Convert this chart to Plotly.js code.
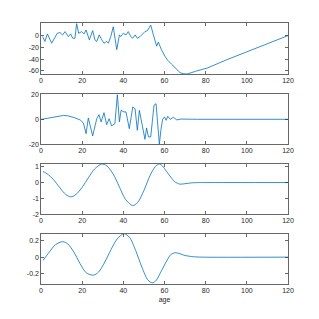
<!DOCTYPE html>
<html>
<head>
<meta charset="utf-8">
<script src="https://cdn.plot.ly/plotly-3.0.1.min.js"></script>
<style>html,body{margin:0;padding:0;background:#fff;}#chart{width:319px;height:319px;}</style>
</head>
<body>
<div id="chart"></div>
<script>
// ---- data ----
const xTicks = [0, 20, 40, 60, 80, 100, 120];
const xTickText = ['0', '20', '40', '60', '80', '100', '120'];
const xLabel = 'age';

const p1Age = [0.8,1.9,3.1,5.2,7.9,9.2,10.5,11.7,13.3,14.4,15.4,16.5,17.3,18.3,19.8,20.9,21.9,23.5,25.1,26.2,27.1,28.3,29.5,30.6,31.9,32.7,33.9,35.1,36.8,38.1,38.7,40,41.3,42.4,43.6,44.6,45.7,46.8,48.1,49.4,50.5,51.7,53.3,54.6,56.2,57,58.5,60.2,61.5,63.5,65.9,67.5,69,71,75,81,90,100,110,120];
const p1Val = [-1.7,-10,2.9,-13,4,5.2,1.2,6.8,-1.7,2.9,-4.5,-4.5,20.5,4,6.8,2.9,9.6,-7.3,8.5,-7.3,-10,1.2,-7.3,-13,-10,-13,-1.7,15,-24,1.2,-1.7,4,1.2,6.8,-1.7,-4.5,1.2,-4.5,-1.7,4,6.8,8.5,18,1.2,-18,-11,-24,-35,-42,-49,-57.6,-63,-65,-65.5,-61,-55,-41.5,-27.5,-13.8,0];
const p1Ticks = [-60, -40, -20, 0];
const p1TickText = ['-60', '-40', '-20', '0'];

const p2Age = [0.3,3,6,9,11,13,16,19,20.6,21.9,23,25.1,27.1,28.2,29.2,30.6,31.9,33.1,34.3,35.9,37.1,38.1,38.9,40.3,41.3,42.9,43.6,44.6,45.7,46.8,47.8,48.9,50.5,51.3,52.2,53.3,54.9,55.9,57.5,58.3,59.1,60,60.8,61.6,62.8,64.3,66,68,72,76,120];
const p2Val = [0,0.8,1.8,2.8,3.1,2.8,1.5,-0.5,-2.9,-11.5,1.1,-13.3,0.5,3.7,-2.1,5.3,-4.3,0.5,-5.3,-3.5,19.7,-2.1,7.2,5.9,5.9,-7.5,0.5,9.9,8.5,-8.8,7.2,-2.1,-16,-6.9,-14.1,-14.1,11.2,12.5,-20,-8,0,1.9,-0.8,2.4,0,1.6,-0.5,0.2,0.3,0,0];
const p2Ticks = [-20, 0, 20];
const p2TickText = ['-20', '0', '20'];

const p3Age = [1,3,6,9,12,14.5,17,20,23,26,29.5,32,35,38,41,44.5,47,50,53,55.5,57.5,59,61,63,65,67.5,70,73,77,80,120];
const p3Val = [0.7,0.55,0.2,-0.3,-0.75,-0.9,-0.75,-0.3,0.3,0.85,1.17,1.05,0.55,-0.25,-1.05,-1.45,-1.25,-0.5,0.45,1.0,1.17,1.05,0.7,0.35,0.05,-0.1,-0.07,-0.02,0,0,0];
const p3Ticks = [-2, -1, 0, 1];
const p3TickText = ['-2', '-1', '0', '1'];

const p4Age = [1,4,7,10.5,13,16,19,22,25.5,28,31,34,37,40.3,43,46,49,52,54.3,56,58,61,63,65,67,70,74,78,120];
const p4Val = [-0.04,0.06,0.15,0.187,0.16,0.06,-0.08,-0.19,-0.218,-0.18,-0.06,0.09,0.22,0.284,0.24,0.08,-0.12,-0.28,-0.31,-0.28,-0.19,-0.05,0.03,0.053,0.045,0.02,0.005,0,0];
const p4Ticks = [-0.2, 0, 0.2];
const p4TickText = ['-0.2', '0', '0.2'];

// ---- drawing ----
const lineColor = '#0072BD';
const axColor = '#262626';
const fontFam = 'Liberation Sans Narrow, Liberation Sans, Arial, sans-serif';

function tr(x, y, n, shape) {
  return {x: x, y: y, type: 'scatter', mode: 'lines',
    xaxis: 'x' + (n === 1 ? '' : n), yaxis: 'y' + (n === 1 ? '' : n),
    line: {color: lineColor, width: 0.8, shape: shape || 'linear', smoothing: 0.8},
    hoverinfo: 'skip', cliponaxis: true};
}
const data = [
  tr(p1Age, p1Val, 1),
  tr(p2Age, p2Val, 2),
  tr(p3Age, p3Val, 3, 'spline'),
  tr(p4Age, p4Val, 4, 'spline')
];

function xa(anchor, withTitle) {
  const a = {anchor: anchor, domain: [0, 1], range: [0, 120], tickvals: xTicks, ticktext: xTickText,
    showline: true, mirror: 'ticks', linecolor: axColor, linewidth: 0.7,
    ticks: 'inside', ticklen: 3, tickwidth: 0.7, tickcolor: axColor,
    showgrid: false, zeroline: false, tickfont: {size: 7, color: axColor, family: fontFam}};
  if (withTitle) a.title = {text: xLabel, font: {size: 7, color: axColor, family: fontFam}, standoff: 3};
  return a;
}
function ya(anchor, dom, range, tv, tt) {
  return {anchor: anchor, domain: dom, range: range, tickvals: tv, ticktext: tt,
    showline: true, mirror: 'ticks', linecolor: axColor, linewidth: 0.7,
    ticks: 'inside', ticklen: 3, tickwidth: 0.7, tickcolor: axColor,
    showgrid: false, zeroline: false, tickfont: {size: 7, color: axColor, family: fontFam}};
}

const layout = {
  width: 319, height: 319,
  margin: {l: 41, r: 31, t: 0, b: 0, pad: 0},
  showlegend: false,
  paper_bgcolor: '#ffffff', plot_bgcolor: '#ffffff',
  font: {family: fontFam, size: 7, color: axColor},
  xaxis: xa('y', false),
  xaxis2: xa('y2', false),
  xaxis3: xa('y3', false),
  xaxis4: xa('y4', true),
  yaxis: ya('x', [0.768, 0.927], [-65.5, 21], p1Ticks, p1TickText),
  yaxis2: ya('x2', [0.5476, 0.7044], [-20, 20], p2Ticks, p2TickText),
  yaxis3: ya('x3', [0.3282, 0.4859], [-2, 1.17], p3Ticks, p3TickText),
  yaxis4: ya('x4', [0.1097, 0.2665], [-0.325, 0.28], p4Ticks, p4TickText)
};

Plotly.newPlot('chart', data, layout, {staticPlot: true, displayModeBar: false});
</script>
</body>
</html>
